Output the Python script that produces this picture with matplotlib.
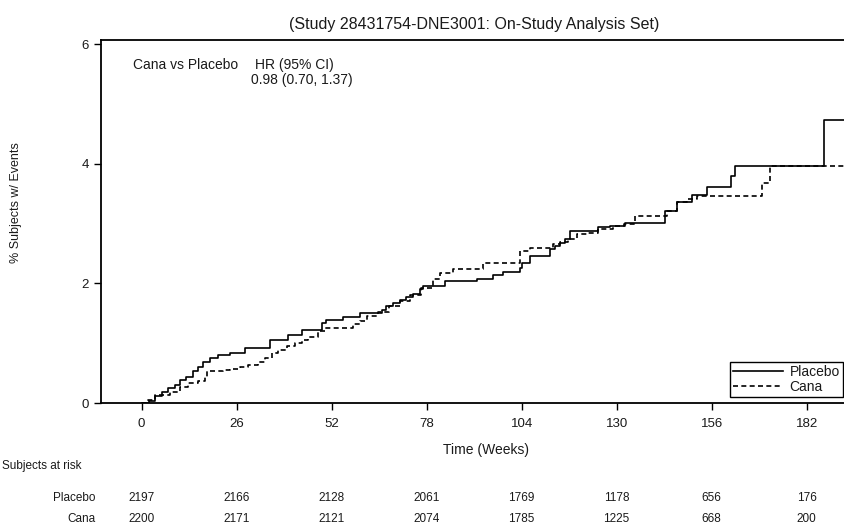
import matplotlib
matplotlib.use('Agg')
import matplotlib.pyplot as plt
import matplotlib.transforms as mtransforms

plt.rcParams['font.family'] = ['Liberation Sans', 'DejaVu Sans']

# Cumulative event curves (% subjects with events), step changes at these weeks
t_pbo = [0, 2.0, 3.6, 5.5, 7.3, 9.1, 10.5, 12.3, 14.1, 15.5, 16.9, 18.7, 21.0, 24.2,
         28.3, 35.1, 40.1, 43.8, 49.3, 50.6, 55.1, 59.7, 65.7, 67.0, 68.9, 70.7,
         72.5, 74.2, 76.2, 77.0, 83.0, 91.7, 96.1, 98.9, 103.5, 104.0, 106.3, 111.7,
         113.1, 114.5, 115.8, 117.2, 124.9, 128.2, 132.3, 143.3, 146.4, 150.5, 154.7,
         161.2, 162.4, 186.7, 192.5]
y_pbo = [0, 0.04, 0.11, 0.19, 0.25, 0.30, 0.39, 0.44, 0.53, 0.61, 0.69, 0.75, 0.81, 0.84,
         0.92, 1.06, 1.14, 1.23, 1.34, 1.39, 1.44, 1.51, 1.56, 1.62, 1.68, 1.73,
         1.77, 1.82, 1.90, 1.96, 2.04, 2.08, 2.15, 2.19, 2.26, 2.35, 2.46, 2.57,
         2.63, 2.68, 2.74, 2.88, 2.94, 2.97, 3.02, 3.22, 3.36, 3.48, 3.62,
         3.80, 3.97, 4.73, 4.73]

t_cana = [0, 1.8, 3.6, 7.7, 10.5, 12.8, 15.4, 17.3, 17.8, 22.3, 24.2, 26.9, 29.2, 31.9,
          33.7, 35.6, 37.4, 39.7, 42.0, 43.8, 45.6, 48.3, 50.2, 57.8, 59.7, 61.7,
          64.7, 67.7, 70.7, 73.6, 76.6, 79.7, 81.6, 85.2, 93.4, 103.5, 106.3, 112.6,
          114.6, 116.7, 119.1, 122.0, 125.0, 129.0, 132.0, 134.9, 143.7, 146.4, 149.3,
          151.9, 169.7, 172.1, 192.5]
y_cana = [0, 0.05, 0.13, 0.19, 0.27, 0.33, 0.36, 0.44, 0.53, 0.55, 0.57, 0.61, 0.64, 0.69,
          0.75, 0.83, 0.89, 0.95, 1.00, 1.06, 1.11, 1.20, 1.26, 1.32, 1.38, 1.45,
          1.52, 1.62, 1.70, 1.80, 1.92, 2.07, 2.18, 2.24, 2.35, 2.54, 2.60, 2.66,
          2.70, 2.74, 2.82, 2.85, 2.91, 2.96, 3.00, 3.13, 3.22, 3.36, 3.42,
          3.47, 3.69, 3.96, 3.96]

weeks = [0, 26, 52, 78, 104, 130, 156, 182]
risk_pbo = [2197, 2166, 2128, 2061, 1769, 1178, 656, 176]
risk_cana = [2200, 2171, 2121, 2074, 1785, 1225, 668, 200]

txt = '#1a1a1a'

fig = plt.figure(figsize=(8.45, 5.24), dpi=100)
ax = fig.add_axes([0.1195, 0.2309, 0.8805, 0.6928])

ax.step(t_pbo, y_pbo, where='post', color='k', linewidth=1.2, label='Placebo')
ax.step(t_cana, y_cana, where='post', color='k', linewidth=1.2,
        linestyle=(0, (3, 2)), label='Cana')

ax.set_xlim(-11.1, 192.5)
ax.set_ylim(0, 6.075)
ax.set_xticks(weeks)
ax.set_yticks([0, 2, 4, 6])
ax.tick_params(direction='out', length=5, width=1, colors='k', labelcolor=txt,
               labelsize=9.5)
ax.tick_params(axis='x', pad=6)
for s in ['left', 'bottom', 'top']:
    ax.spines[s].set_linewidth(1.3)
ax.spines['right'].set_visible(False)

ax.set_xlabel('Time (Weeks)', fontsize=10, color=txt)
ax.xaxis.set_label_coords(486 / 845, 1 - 443 / 524, transform=fig.transFigure)
ax.set_ylabel('% Subjects w/ Events', fontsize=9, color=txt)
ax.yaxis.set_label_coords(22 / 845, 1 - 203 / 524, transform=fig.transFigure)

leg = ax.legend(loc='lower right', bbox_to_anchor=(0.997, 0.017), borderaxespad=0,
                fontsize=10, handlelength=3.6, handletextpad=0.5, labelspacing=0.1,
                borderpad=0.2, fancybox=False, framealpha=1, edgecolor='k')
leg.get_frame().set_linewidth(1.0)
for t in leg.get_texts():
    t.set_color(txt)

fig.text(474 / 845, 1 - 24 / 524, '(Study 28431754-DNE3001: On-Study Analysis Set)',
         ha='center', va='center', fontsize=11.5, color=txt)

ax.text(133 / 845, 1 - 65 / 524, 'Cana vs Placebo', transform=fig.transFigure,
        ha='left', va='center', fontsize=10, color=txt)
ax.text(255 / 845, 1 - 65 / 524, 'HR (95% CI)', transform=fig.transFigure,
        ha='left', va='center', fontsize=10, color=txt)
ax.text(251 / 845, 1 - 80 / 524, '0.98 (0.70, 1.37)', transform=fig.transFigure,
        ha='left', va='center', fontsize=10, color=txt)

# number at risk table under the x axis
tr = mtransforms.blended_transform_factory(ax.transData, fig.transFigure)
narrow = ['Liberation Sans Narrow', 'Liberation Sans', 'DejaVu Sans']
fig.text(2 / 845, 1 - 466 / 524, 'Subjects at risk', ha='left', va='center',
         fontsize=8.5, color=txt, family=narrow)
fig.text(96 / 845, 1 - 498 / 524, 'Placebo', ha='right', va='center',
         fontsize=8.5, color=txt, family=narrow)
fig.text(96 / 845, 1 - 519 / 524, 'Cana', ha='right', va='center',
         fontsize=8.5, color=txt, family=narrow)
for w, n1, n2 in zip(weeks, risk_pbo, risk_cana):
    fig.text(w, 1 - 498 / 524, str(n1), transform=tr, ha='center', va='center',
             fontsize=8.5, color=txt, family=narrow)
    fig.text(w, 1 - 519 / 524, str(n2), transform=tr, ha='center', va='center',
             fontsize=8.5, color=txt, family=narrow)

fig.savefig('out.png', dpi=100)
